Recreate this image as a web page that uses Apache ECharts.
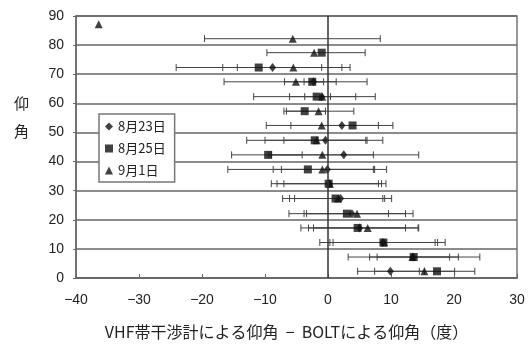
<!DOCTYPE html>
<html>
<head>
<meta charset="utf-8">
<script src="https://cdn.jsdelivr.net/npm/echarts@6/dist/echarts.min.js"></script>
<style>
html, body { margin: 0; padding: 0; background: #fff; }
#chart { width: 529px; height: 347px; }
</style>
</head>
<body>
<div id="chart"></div>
<script>
// 8月23日 (diamond)
const aug23Elev = [72.3, 67.4, 62.3, 52.4, 47.3, 42.3, 37.3, 32.4, 27.3, 22.1, 17.2, 12.2, 7.2, 2.3];
const aug23Diff = [-8.8, -2.3, -1.0, 2.2, -0.4, 2.5, -0.1, 0.2, 2.0, 3.8, 5.0, 8.7, 13.5, 9.9];
const aug23Low = [-16.7, -3.8, -3.7, -5.9, -7.0, -9.4, -7.4, -8.1, -6.1, -3.4, -2.3, 0.3, 6.6, 4.7];
const aug23High = [-1.0, -0.7, 0.4, 10.3, 6.0, 14.4, 7.4, 8.5, 9.0, 9.6, 12.3, 17.4, 20.7, 15.3];

// 8月25日 (square)
const aug25Elev = [77.4, 72.3, 67.4, 62.3, 57.3, 52.4, 47.3, 42.3, 37.3, 32.4, 27.3, 22.1, 17.2, 12.2, 7.2, 2.3];
const aug25Diff = [-1.0, -11.0, -2.5, -1.8, -3.7, 3.9, -2.1, -9.5, -3.2, 0.1, 1.2, 3.0, 4.7, 8.8, 13.6, 17.3];
const aug25Low = [null, -24.1, -6.9, -11.8, -7.0, null, -12.9, -15.3, -15.9, -9.0, -7.2, -6.2, -4.3, -1.3, 3.2, 14.5];
const aug25High = [null, 2.2, 1.3, 7.5, -0.4, null, 8.7, -4.1, 9.3, 9.2, 10.1, 13.5, 14.4, 18.6, 24.1, 20.1];

// 9月1日 (triangle)
const sep1Elev = [87.2, 82.2, 77.4, 72.3, 67.4, 62.3, 57.3, 52.4, 47.3, 42.3, 37.3, 32.4, 27.3, 22.1, 17.2, 12.2, 7.2, 2.3];
const sep1Diff = [-36.4, -5.6, -2.2, -5.5, -5.1, -0.9, -1.5, -1.0, -1.8, -0.9, -0.9, 0.3, 1.6, 4.6, 6.3, 8.9, 13.4, 15.3];
const sep1Low = [null, -19.6, -9.7, -14.4, -16.5, -6.1, -6.6, -9.8, -10.0, -9.0, -8.7, -7.0, -5.3, -3.8, -3.1, 0.8, 7.8, 7.4];
const sep1High = [null, 8.3, 5.9, 3.5, 6.2, 4.4, 4.1, 8.0, 6.2, 7.2, 7.2, 8.0, 8.7, 12.3, 14.3, 17.0, 19.3, 23.3];

const seriesNames = ['8月23日', '8月25日', '9月1日'];
const xTitle = 'VHF帯干渉計による仰角  −  BOLTによる仰角（度）';

const jpFont = '"Noto Sans CJK JP", "Noto Sans", sans-serif';

function points(diff, elev) {
    return diff.map((d, i) => [d, elev[i]]);
}
function bars(low, high, elev) {
    const out = [];
    low.forEach((l, i) => {
        if (l !== null) out.push([l, high[i], elev[i]]);
    });
    return out;
}

// error bar drawn through the axes
function renderBar(params, api) {
    const a = api.coord([api.value(0), api.value(2)]);
    const b = api.coord([api.value(1), api.value(2)]);
    const cap = 3.5;
    const style = { stroke: '#444', lineWidth: 1 };
    return {
        type: 'group',
        children: [
            { type: 'line', shape: { x1: a[0], y1: a[1], x2: b[0], y2: b[1] }, style },
            { type: 'line', shape: { x1: a[0], y1: a[1] - cap, x2: a[0], y2: a[1] + cap }, style },
            { type: 'line', shape: { x1: b[0], y1: b[1] - cap, x2: b[0], y2: b[1] + cap }, style },
        ],
    };
}

function barSeries(data) {
    return {
        type: 'custom',
        renderItem: renderBar,
        encode: { x: [0, 1], y: 2 },
        data: data,
        z: 3,
        silent: true,
    };
}

const option = {
    animation: false,
    backgroundColor: '#fff',
    grid: {
        left: 76,
        right: 12,
        top: 16,
        bottom: 69,
        show: true,
        borderColor: '#777',
        borderWidth: 1.5,
        containLabel: false,
        outerBoundsMode: 'none',
    },
    legend: {
        orient: 'vertical',
        left: 99,
        top: 114,
        data: [
            { name: seriesNames[0], icon: 'diamond' },
            { name: seriesNames[1], icon: 'rect' },
            { name: seriesNames[2], icon: 'triangle' },
        ],
        itemWidth: 8,
        itemHeight: 8,
        itemGap: 7,
        padding: [5, 9, 4, 6],
        backgroundColor: '#fff',
        borderColor: '#777',
        borderWidth: 1.5,
        textStyle: {
            fontFamily: jpFont,
            fontSize: 13,
            color: '#222',
            lineHeight: 15,
        },
        z: 5,
    },
    xAxis: {
        type: 'value',
        min: -40,
        max: 30,
        interval: 10,
        axisLine: { onZero: false, lineStyle: { color: '#666', width: 1.5 } },
        axisTick: { inside: true, length: 4, lineStyle: { color: '#666' } },
        splitLine: { show: false },
        axisLabel: {
            margin: 15,
            fontSize: 14,
            color: '#222',
            fontFamily: 'Arial, "Liberation Sans", sans-serif',
            formatter: (v) => String(v).replace('-', '−'),
        },
        name: xTitle,
        nameLocation: 'middle',
        nameGap: 46,
        nameTextStyle: {
            fontFamily: jpFont,
            fontSize: 16,
            color: '#222',
            padding: [0, 20, 0, 0],
        },
    },
    yAxis: {
        type: 'value',
        min: 0,
        max: 90,
        interval: 10,
        axisLine: { onZero: false, lineStyle: { color: '#666', width: 1.5 } },
        axisTick: { show: true, length: 3, lineStyle: { color: '#666' } },
        splitLine: { show: true, lineStyle: { color: '#666', width: 1.5 } },
        axisLabel: {
            margin: 12,
            fontSize: 14,
            color: '#222',
            fontFamily: 'Arial, "Liberation Sans", sans-serif',
        },
    },
    graphic: [
        {
            type: 'text',
            left: 14,
            top: 96,
            style: { text: '仰', font: '15px ' + jpFont, fill: '#222' },
        },
        {
            type: 'text',
            left: 14,
            top: 124,
            style: { text: '角', font: '15px ' + jpFont, fill: '#222' },
        },
    ],
    series: [
        barSeries(bars(aug23Low, aug23High, aug23Elev)),
        barSeries(bars(aug25Low, aug25High, aug25Elev)),
        barSeries(bars(sep1Low, sep1High, sep1Elev)),
        {
            name: seriesNames[0],
            type: 'scatter',
            symbol: 'diamond',
            symbolSize: [7, 9],
            itemStyle: { color: '#111' },
            data: points(aug23Diff, aug23Elev),
            z: 4,
            markLine: {
                silent: true,
                symbol: 'none',
                label: { show: false },
                lineStyle: { color: '#333', width: 1.5, type: 'solid' },
                data: [{ xAxis: 0 }],
            },
        },
        {
            name: seriesNames[1],
            type: 'scatter',
            symbol: 'rect',
            symbolSize: 8,
            itemStyle: { color: '#111' },
            data: points(aug25Diff, aug25Elev),
            z: 4,
        },
        {
            name: seriesNames[2],
            type: 'scatter',
            symbol: 'triangle',
            symbolSize: 8,
            itemStyle: { color: '#111' },
            data: points(sep1Diff, sep1Elev),
            z: 4,
        },
    ],
};

const myChart = echarts.init(document.getElementById('chart'));
myChart.setOption(option);
</script>
</body>
</html>
